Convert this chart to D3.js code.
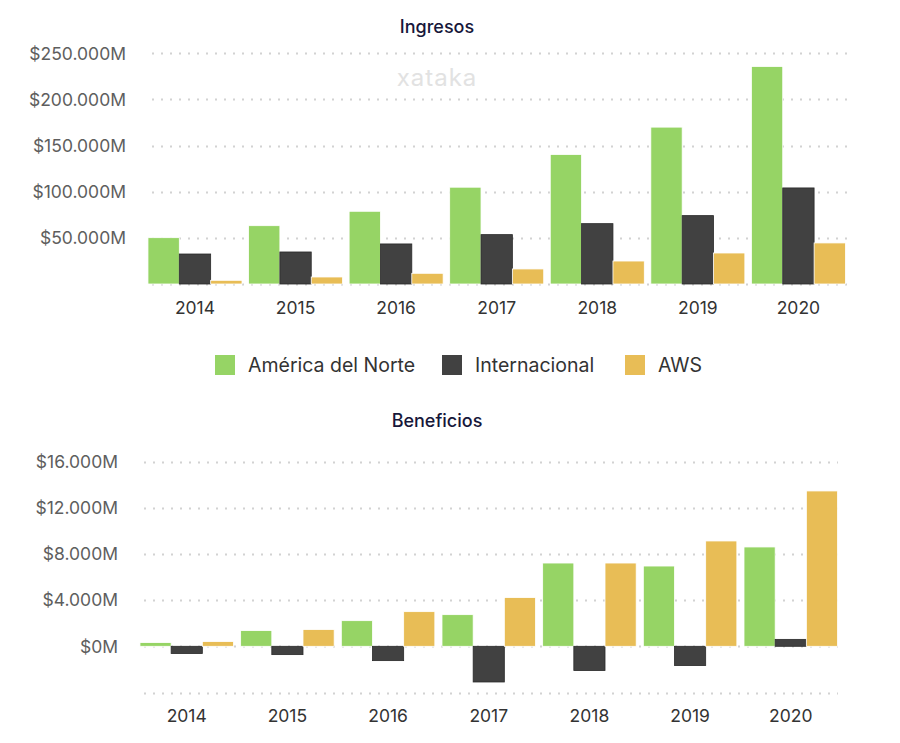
<!DOCTYPE html>
<html><head><meta charset="utf-8">
<script src="https://cdn.jsdelivr.net/npm/d3@7"></script>
<style>body{margin:0;background:#fff;} svg{display:block;font-family:Inter,"Noto Sans",sans-serif;}</style>
</head><body>
<svg id="c" width="900" height="743"></svg>
<script>
const years = ["2014","2015","2016","2017","2018","2019","2020"];
const seriesNames = ["América del Norte","Internacional","AWS"];
const colors = ["#96d465","#414141","#e8bd56"];
// Ingresos (millones USD)
const revNA   = [50200, 63200, 78800, 104900, 140300, 170000, 235700];
const revIntl = [32500, 34700, 43400, 53500, 65400, 74100, 104100];
const revAWS  = [4000, 7600, 11600, 16300, 24900, 33600, 44500];
// Beneficios (millones USD)
const profNA   = [320, 1360, 2220, 2740, 7210, 6950, 8600];
const profIntl = [-630, -720, -1240, -3090, -2100, -1670, 600];
const profAWS  = [410, 1450, 3000, 4220, 7210, 9120, 13450];
const revTicks = [0, 50000, 100000, 150000, 200000, 250000];
const profTicks = [-4000, 0, 4000, 8000, 12000, 16000];

const svg = d3.select("#c");
const fmt = v => "$" + d3.format(",")(v).replace(/,/g, ".") + "M";

function drawChart(cfg){
  const g = svg.append("g");
  const x0 = d3.scaleBand().domain(years).range(cfg.xr).paddingInner(cfg.pad).paddingOuter(cfg.pad/2);
  const x1 = d3.scaleBand().domain(seriesNames).range([0, x0.bandwidth()]);
  const y = d3.scaleLinear().domain(cfg.yd).range(cfg.yr);
  // grid
  g.append("g").selectAll("line").data(cfg.ticks).join("line")
    .attr("x1", cfg.gx[0]).attr("x2", cfg.gx[1])
    .attr("y1", d => Math.round(y(d))+0.5).attr("y2", d => Math.round(y(d))+0.5)
    .attr("stroke", "#d2d2d2").attr("stroke-width", 2)
    .attr("stroke-dasharray", "2 7");
  // y labels
  g.append("g").selectAll("text").data(cfg.labelTicks).join("text")
    .attr("x", cfg.lx).attr("y", d => y(d)).attr("dy", "0.36em")
    .attr("text-anchor", "end").attr("font-size", 17.5).attr("fill", "#5e5e5e")
    .text(fmt);
  // bars
  const data = years.map((yr, i) => ({yr, vals: cfg.series.map((s, j) => ({name: seriesNames[j], v: s[i], c: colors[j]}))}));
  const grp = g.append("g").selectAll("g").data(data).join("g")
    .attr("transform", d => `translate(${x0(d.yr)},0)`);
  grp.selectAll("rect").data(d => d.vals).join("rect")
    .attr("x", d => x1(d.name)).attr("width", x1.bandwidth())
    .attr("y", d => y(Math.max(0, d.v))).attr("height", d => Math.abs(y(d.v) - y(0)))
    .attr("fill", d => d.c)
    .attr("stroke", d => d.name === "Internacional" ? "#2a2a2a" : "#ffffff")
    .attr("stroke-width", 0.8);
  // x labels
  g.append("g").selectAll("text").data(years).join("text")
    .attr("x", d => x0(d) + x0.bandwidth()/2).attr("y", cfg.xly)
    .attr("text-anchor", "middle").attr("font-size", 17.5).attr("fill", "#333")
    .text(d => d);
  // title
  g.append("text").attr("x", 437).attr("y", cfg.ty).attr("text-anchor", "middle")
    .attr("font-size", 18).attr("font-weight", 500).attr("fill", "#17173a").text(cfg.title);
}

// watermark
svg.append("text").attr("x", 437).attr("y", 86).attr("text-anchor", "middle")
  .attr("font-size", 24).attr("fill", "#e2e2e2").attr("letter-spacing", 1).text("xataka");

drawChart({
  title: "Ingresos", ty: 33,
  xr: [144.7, 848.7], pad: 0.065,
  yd: [0, 250000], yr: [284, 53.3],
  gx: [152, 847], ticks: revTicks, labelTicks: revTicks.filter(d => d > 0), lx: 126,
  series: [revNA, revIntl, revAWS], xly: 314
});
drawChart({
  title: "Beneficios", ty: 427,
  xr: [136.4, 841.1], pad: 0.071,
  yd: [-4000, 16000], yr: [692.5, 461.5],
  gx: [144, 838], ticks: profTicks, labelTicks: profTicks.filter(d => d >= 0), lx: 118,
  series: [profNA, profIntl, profAWS], xly: 722
});

// legend
const legX = [215, 442, 625];
const leg = svg.append("g").selectAll("g").data(seriesNames).join("g")
  .attr("transform", (d, i) => `translate(${legX[i]},355)`);
leg.append("rect").attr("width", 20).attr("height", 20).attr("fill", (d, i) => colors[i]);
leg.append("text").attr("x", 33).attr("y", 10).attr("dy", "0.36em")
  .attr("font-size", 19.5).attr("fill", "#333").text(d => d);
</script>
</body></html>
